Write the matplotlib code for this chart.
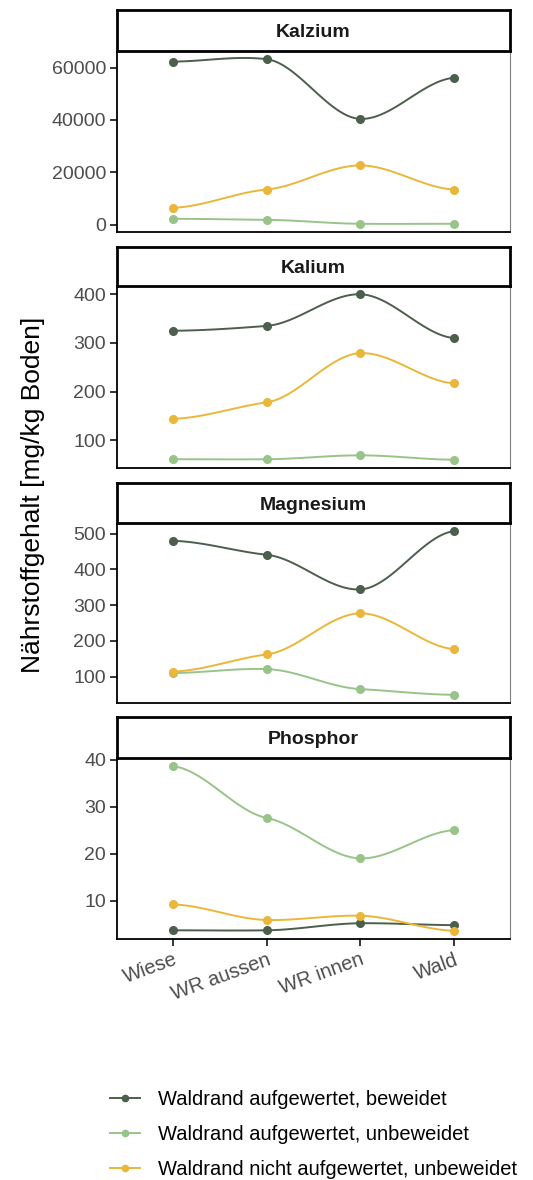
import numpy as np
import matplotlib.pyplot as plt
from matplotlib.lines import Line2D

plt.rcParams['font.family'] = ['Liberation Sans', 'DejaVu Sans']

# Daten
standorte = ['Wiese', 'WR aussen', 'WR innen', 'Wald']
gruppen = ['Waldrand aufgewertet, beweidet',
           'Waldrand aufgewertet, unbeweidet',
           'Waldrand nicht aufgewertet, unbeweidet']
farben = ['#4b5f4c', '#98c48a', '#eab73a']

kalzium = [[62300, 63200, 40400, 56100],
           [2200, 1800, 300, 300],
           [6400, 13400, 22600, 13400]]
kalium = [[325, 335, 400, 310],
          [61, 61, 69, 60],
          [144, 178, 279, 217]]
magnesium = [[480, 441, 344, 507],
             [110, 121, 65, 49],
             [114, 162, 277, 177]]
phosphor = [[3.7, 3.7, 5.2, 4.8],
            [38.6, 27.6, 19.0, 25.0],
            [9.2, 5.9, 6.8, 3.6]]

naehrstoffe = ['Kalzium', 'Kalium', 'Magnesium', 'Phosphor']
werte = [kalzium, kalium, magnesium, phosphor]
yticks = [[0, 20000, 40000, 60000],
          [100, 200, 300, 400],
          [100, 200, 300, 400, 500],
          [10, 20, 30, 40]]


# glatte Kurve durch die Punkte (kardinaler Spline mit kleiner Tangente)
def glatt(x, y, k=0.2, n=40):
    x = np.asarray(x, float)
    y = np.asarray(y, float)
    m = np.zeros_like(y)
    m[1:-1] = (y[2:] - y[:-2]) / 2
    m[0] = (y[1] - y[0]) / 2
    m[-1] = (y[-1] - y[-2]) / 2
    m *= k * 2
    xs, ys = [], []
    for i in range(len(x) - 1):
        t = np.linspace(0, 1, n)
        h00 = 2 * t**3 - 3 * t**2 + 1
        h10 = t**3 - 2 * t**2 + t
        h01 = -2 * t**3 + 3 * t**2
        h11 = t**3 - t**2
        xs.append(x[i] + t * (x[i + 1] - x[i]))
        ys.append(h00 * y[i] + h10 * m[i] + h01 * y[i + 1] + h11 * m[i + 1])
    return np.concatenate(xs), np.concatenate(ys)


W, H = 533, 1180
fig = plt.figure(figsize=(W / 100, H / 100), dpi=100)

left, right = 117, 510
panels = [(51, 232), (286, 468), (523, 703), (758, 939)]
strips = [(10, 51), (247, 286), (483, 523), (717, 758)]

x = np.arange(1, 5)
for i, (name, daten) in enumerate(zip(naehrstoffe, werte)):
    top, bot = panels[i]
    ax = fig.add_axes([left / W, 1 - bot / H, (right - left) / W, (bot - top) / H])
    for j, reihe in enumerate(daten):
        xs, ys = glatt(x, reihe)
        ax.plot(xs, ys, color=farben[j], lw=1.4, zorder=2)
        ax.plot(x, reihe, 'o', color=farben[j], ms=5.5, zorder=3)
    alle = np.concatenate([np.asarray(r, float) for r in daten])
    lo, hi = alle.min(), alle.max()
    pad = (hi - lo) * 0.05
    ax.set_ylim(lo - pad, hi + pad)
    ax.set_xlim(0.4, 4.6)
    ax.set_yticks(yticks[i])
    ax.set_xticks(x)
    ax.tick_params(axis='both', colors='#4d4d4d', labelsize=14, length=5, width=1.1,
                   pad=3)
    ax.tick_params(axis='both', color='black')
    if i < 3:
        ax.set_xticklabels([])
        ax.tick_params(axis='x', length=0)
    else:
        ax.set_xticklabels(standorte, rotation=20, ha='right', va='top',
                           rotation_mode='anchor', fontsize=14.5)
    for s in ['left', 'bottom']:
        ax.spines[s].set_color('black')
        ax.spines[s].set_linewidth(1.3)
    for s in ['right', 'top']:
        ax.spines[s].set_color('#7f7f7f')
        ax.spines[s].set_linewidth(0.8)

    st, sb = strips[i]
    sax = fig.add_axes([left / W, 1 - sb / H, (right - left) / W, (sb - st) / H])
    sax.set_xticks([])
    sax.set_yticks([])
    for s in sax.spines.values():
        s.set_color('black')
        s.set_linewidth(2)
    sax.text(0.5, 0.45, name, ha='center', va='center', fontsize=14,
             fontweight='bold', color='#1a1a1a', transform=sax.transAxes)

fig.text(33 / W, 1 - 495 / H, 'Nährstoffgehalt [mg/kg Boden]', rotation=90,
         ha='center', va='center', fontsize=19)

handles = [Line2D([], [], color=c, lw=1.4, marker='o', ms=4.5) for c in farben]
fig.legend(handles, gruppen, loc='upper left',
           bbox_to_anchor=(92 / W, 1 - 1072 / H), frameon=False,
           fontsize=14.5, handlelength=1.5, handletextpad=0.9,
           labelspacing=0.8)

fig.savefig('out.png', dpi=100)
